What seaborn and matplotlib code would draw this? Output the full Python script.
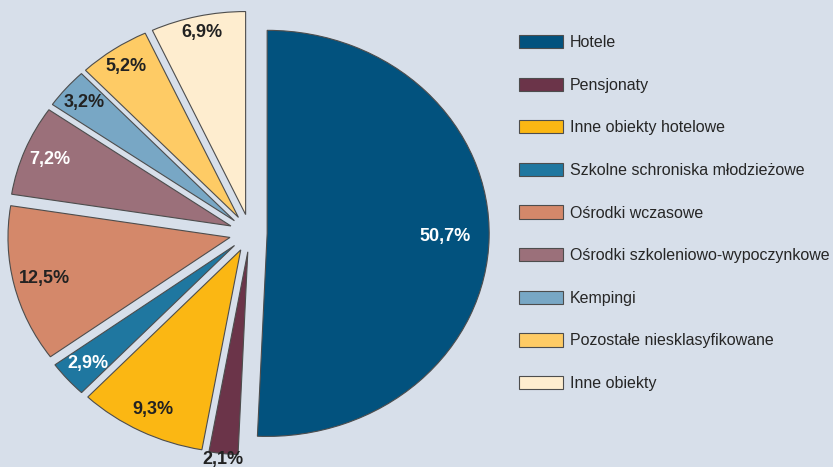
import matplotlib
matplotlib.use("Agg")
import matplotlib.pyplot as plt
import seaborn as sns
import numpy as np

# ---- data ----
categories = [
    "Hotele",
    "Pensjonaty",
    "Inne obiekty hotelowe",
    "Szkolne schroniska młodzieżowe",
    "Ośrodki wczasowe",
    "Ośrodki szkoleniowo-wypoczynkowe",
    "Kempingi",
    "Pozostałe niesklasyfikowane",
    "Inne obiekty",
]
values = [50.7, 2.1, 9.3, 2.9, 12.5, 7.2, 3.2, 5.2, 6.9]
value_labels = [f"{v:.1f}".replace(".", ",") + "%" for v in values]

# ---- style ----
bg = "#d7dfea"
slice_colors = ["#02527e", "#6b3449", "#fbb713", "#1f77a0", "#d4886a",
                "#9b707a", "#78a7c5", "#fecb65", "#feedcf"]
explode = [0.077, 0.093, 0.093, 0.093, 0.093, 0.093, 0.093, 0.093, 0.093]
label_dist = [0.80, 1.03, 0.88, 0.88, 0.86, 0.88, 0.89, 0.90, 0.92]
label_colors = ["white", "#222222", "#222222", "white", "#222222",
                "white", "#222222", "#222222", "#222222"]

sns.set_style("white")
plt.rcParams["font.family"] = ["Liberation Sans", "DejaVu Sans"]
palette = sns.color_palette(slice_colors)

fig = plt.figure(figsize=(8.33, 4.67), dpi=100, facecolor=bg)
ax = fig.add_axes([0.0017, 0.001, 0.597, 1.0])
wedges, _ = ax.pie(values, colors=palette, explode=explode, startangle=90,
                   counterclock=False,
                   wedgeprops=dict(edgecolor="#4d4d4d", linewidth=0.8))
ax.set_aspect("auto")
ax.set_xlim(-1.12, 1.12)
ax.set_ylim(-1.15, 1.15)
ax.set_facecolor(bg)

for w, lab, d, c in zip(wedges, value_labels, label_dist, label_colors):
    ang = np.deg2rad((w.theta1 + w.theta2) / 2)
    cx, cy = w.center
    ax.text(cx + d * w.r * np.cos(ang), cy + d * w.r * np.sin(ang), lab,
            ha="center", va="center", fontsize=13, fontweight="bold", color=c)

fig.legend(wedges, categories, loc="upper left",
           bbox_to_anchor=(519 / 833, 1 - 35 / 467), frameon=False,
           fontsize=11.5, handlelength=2.75, handleheight=0.9,
           handletextpad=0.45, labelspacing=1.72, borderpad=0,
           borderaxespad=0)

fig.savefig("out.png", dpi=100, facecolor=bg)
